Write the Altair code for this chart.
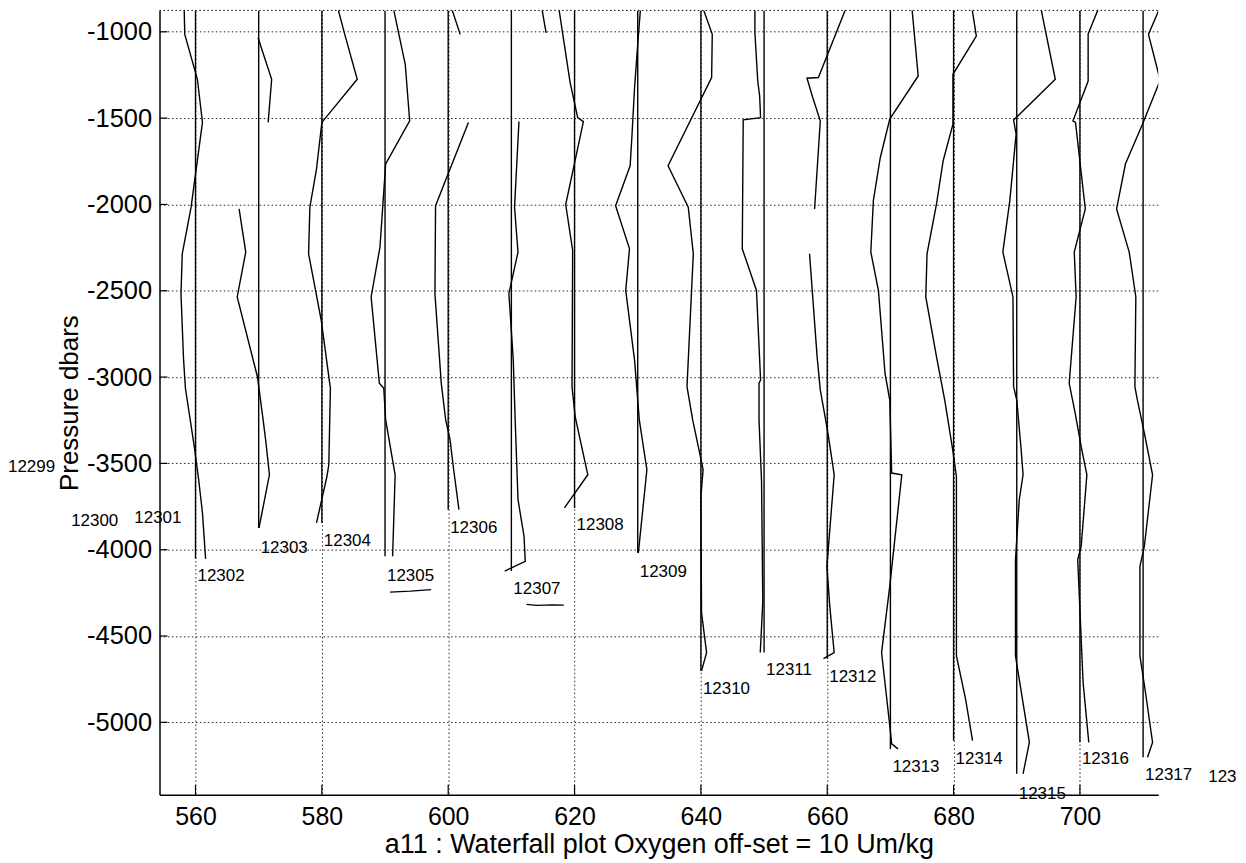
import altair as alt
import pandas as pd

# ---------------- data ----------------
offsets = [560, 570, 580, 590, 600, 610, 620, 630, 640, 650, 660, 670, 680, 690, 700, 710]
x_ticks = [560, 580, 600, 620, 640, 660, 680, 700]
y_ticks = [-1000, -1500, -2000, -2500, -3000, -3500, -4000, -4500, -5000]

# station profiles (oxygen + offset, pressure); "a"/"b" = pieces separated by gaps
s12302_x = [558.2, 558.3, 560.3, 561.1, 559.3, 557.9, 557.7, 558.1, 558.4, 559.8, 560.5, 561.1, 561.6]
s12302_p = [-860, -1015, -1275, -1525, -2016, -2286, -2517, -2892, -3065, -3402, -3595, -3787, -4053]

s12303a_x = [569.9, 572.05, 571.5]
s12303a_p = [-1035, -1275, -1525]
s12303b_x = [566.9, 567.95, 566.6, 569.8, 570.7, 571.1, 571.7, 570.05]
s12303b_p = [-2026, -2276, -2536, -2998, -3248, -3364, -3566, -3874]

s12304_x = [582.5, 583.7, 585.6, 580.0, 579.15, 578.1, 577.9, 578.7, 579.9, 581.35, 581.1, 580.8, 579.15]
s12304_p = [-860, -1025, -1275, -1525, -1795, -2016, -2286, -2440, -2671, -3065, -3508, -3576, -3845]

s12305_x = [591.3, 593.2, 593.9, 590.1, 589.2, 587.8, 589.1, 589.8, 590.1, 591.6, 591.2]
s12305_p = [-860, -1188, -1516, -1766, -2247, -2536, -3036, -3065, -3248, -3566, -4038]

s12306a_x = [600.5, 601.9]
s12306a_p = [-860, -1015]
s12306b_x = [603.2, 598.0, 597.9, 598.9, 599.6, 600.3, 600.8, 601.7]
s12306b_p = [-1525, -2007, -2517, -3036, -3248, -3364, -3518, -3768]

s12307a_x = [614.8, 615.5]
s12307a_p = [-860, -1006]
s12307b_x = [611.2, 610.5, 611.05, 609.6, 609.75, 610.3, 610.6, 611.05, 612.0, 612.2, 608.95]
s12307b_p = [-1520, -2016, -2276, -2517, -2594, -2902, -3248, -3710, -3922, -4067, -4124]

s12308_x = [617.5, 618.3, 619.3, 620.5, 621.4, 618.6, 619.7, 619.6, 620.1, 622.1, 618.4]
s12308_p = [-860, -1054, -1294, -1497, -1520, -2001, -2266, -3056, -3229, -3566, -3758]

s12309_x = [630.45, 630.0, 629.5, 629.1, 628.8, 626.5, 628.7, 628.1, 629.5, 630.25, 631.45, 630.1]
s12309_p = [-860, -1073, -1323, -1593, -1776, -2007, -2257, -2498, -2902, -3248, -3537, -4018]

s12310_x = [640.3, 641.8, 641.7, 634.8, 638.0, 638.8, 637.8, 638.7, 639.7, 640.35, 640.0, 640.1, 640.9, 640.1]
s12310_p = [-860, -1015, -1265, -1776, -2016, -2286, -3056, -3248, -3422, -3537, -3691, -4365, -4596, -4702]

s12311_x = [648.55, 648.55, 649.0, 649.3, 649.45, 646.7, 646.55, 648.8, 649.45, 649.2, 649.2, 649.6, 649.8, 649.4]
s12311_p = [-860, -1006, -1285, -1371, -1497, -1510, -2257, -2498, -3017, -3036, -3248, -3600, -4300, -4596]

s12312a_x = [663.0, 658.6, 656.8, 657.7, 658.9, 658.0]
s12312a_p = [-860, -1265, -1269, -1381, -1516, -2026]
s12312b_x = [657.2, 658.4, 658.9, 659.7, 660.2, 661.1, 659.95, 660.4, 661.1, 659.4]
s12312b_p = [-2286, -2883, -3075, -3238, -3345, -3566, -4096, -4327, -4596, -4631]

s12313_x = [673.4, 674.4, 669.9, 668.4, 667.3, 666.9, 668.1, 669.15, 669.9, 670.2, 671.8, 669.9, 668.6, 669.9, 670.2, 671.2]
s12313_p = [-860, -1256, -1506, -1728, -1978, -2276, -2498, -2979, -3133, -3556, -3566, -4211, -4596, -5019, -5125, -5154]

s12314_x = [682.9, 683.6, 679.9, 679.9, 678.35, 677.3, 675.8, 675.6, 677.3, 678.6, 679.9, 680.45, 680.45, 681.9, 683.0]
s12314_p = [-860, -1025, -1246, -1535, -1747, -1997, -2286, -2536, -2883, -3133, -3431, -3576, -4615, -4865, -5106]

s12315_x = [693.8, 696.1, 689.5, 689.9, 688.9, 687.8, 689.4, 689.5, 690.0, 690.7, 691.0, 690.4, 689.8, 689.8, 692.0, 691.0]
s12315_p = [-860, -1275, -1511, -1593, -1978, -2276, -2536, -3056, -3133, -3422, -3566, -3710, -4057, -4615, -5116, -5298]

s12316_x = [703.0, 701.3, 701.3, 698.9, 699.3, 700.85, 699.1, 699.4, 698.3, 699.2, 700.3, 701.1, 700.2, 699.65, 700.5, 701.4]
s12316_p = [-860, -1012, -1285, -1516, -1525, -2026, -2276, -2536, -3036, -3200, -3422, -3566, -3980, -4057, -4769, -5116]

s12317_x = [712.9, 710.85, 712.7, 709.9, 707.2, 705.8, 707.8, 708.85, 708.7, 709.1, 710.2, 711.5, 710.2, 709.5, 709.5, 710.3, 711.5, 710.7]
s12317_p = [-840, -1015, -1280, -1535, -1766, -2026, -2276, -2536, -3056, -3133, -3325, -3566, -3980, -4096, -4615, -4807, -5116, -5202]

# station labels
label_text = ["12299", "12300", "12301", "12302", "12303", "12304", "12305", "12306", "12307", "12308",
              "12309", "12310", "12311", "12312", "12313", "12314", "12315", "12316", "12317", "123"]
label_x = [530, 540, 550, 560, 570, 580, 590, 600, 610, 620, 630, 640, 650, 660, 670, 680, 690, 700, 710, 720]
label_p = [-3520, -3832, -3815, -4155, -3988, -3948, -4155, -3872, -4230, -3855,
           -4132, -4808, -4698, -4739, -5259, -5212, -5414, -5212, -5305, -5316]

# hand-drawn underline strokes under two labels
u12305_x = [590.8, 594.0, 597.3]
u12305_p = [-4246, -4240, -4231]
u12307_x = [612.4, 614.0, 616.5, 618.3]
u12307_p = [-4317, -4322, -4320, -4321]

# ---------------- build tables ----------------
segments = [
    ("12302", s12302_x, s12302_p), ("12303a", s12303a_x, s12303a_p), ("12303b", s12303b_x, s12303b_p),
    ("12304", s12304_x, s12304_p), ("12305", s12305_x, s12305_p),
    ("12306a", s12306a_x, s12306a_p), ("12306b", s12306b_x, s12306b_p),
    ("12307a", s12307a_x, s12307a_p), ("12307b", s12307b_x, s12307b_p),
    ("12308", s12308_x, s12308_p), ("12309", s12309_x, s12309_p), ("12310", s12310_x, s12310_p),
    ("12311", s12311_x, s12311_p), ("12312a", s12312a_x, s12312a_p), ("12312b", s12312b_x, s12312b_p),
    ("12313", s12313_x, s12313_p), ("12314", s12314_x, s12314_p), ("12315", s12315_x, s12315_p),
    ("12316", s12316_x, s12316_p), ("12317", s12317_x, s12317_p),
]
rows = []
for seg, xs, ps in segments:
    for i, (x, p) in enumerate(zip(xs, ps)):
        rows.append({"seg": seg, "st": seg[:5], "i": i, "xv": x, "yv": p})
prof = pd.DataFrame(rows)

X_DOM = [554.3, 712.4]
Y_DOM = [-5420, -876]

bottoms = prof.groupby("st")["yv"].min()
ref = pd.DataFrame({"xv": offsets,
                    "y2v": [bottoms[str(12302 + k)] for k in range(len(offsets))],
                    "yv": [Y_DOM[1]] * len(offsets)})

labels = pd.DataFrame({"lt": label_text, "xv": label_x, "yv": label_p})

urows = []
for name, xs, ps in [("u1", u12305_x, u12305_p), ("u2", u12307_x, u12307_p)]:
    for i, (x, p) in enumerate(zip(xs, ps)):
        urows.append({"u": name, "i": i, "xv": x, "yv": p})
unders = pd.DataFrame(urows)

# ---------------- chart ----------------
W, H = 1002, 787
FONT = "Liberation Sans"
X_TITLE = "a11 : Waterfall plot Oxygen off-set = 10 Um/kg"
Y_TITLE = "Pressure dbars"
xs_ = alt.Scale(domain=X_DOM, nice=False, zero=False)
ys_ = alt.Scale(domain=Y_DOM, nice=False, zero=False)

x_axis = alt.Axis(values=x_ticks, title=X_TITLE,
                  grid=True, gridDash=[1.5, 2.5], gridColor="black", gridOpacity=0.85, gridWidth=1,
                  ticks=False, domainColor="black", domainWidth=1.5,
                  labelFontSize=25, labelColor="black", labelPadding=10, labelFlush=False,
                  labelFont=FONT, titleFont=FONT,
                  titleFontSize=27, titleFontWeight="normal", titleColor="black", titlePadding=2)
y_axis = alt.Axis(values=y_ticks, title=Y_TITLE, labelExpr="'' + datum.value",
                  grid=True, gridDash=[1.5, 2.5], gridColor="black", gridOpacity=0.85, gridWidth=1,
                  ticks=False, domainColor="black", domainWidth=1.5,
                  labelFontSize=25.5, labelColor="black", labelPadding=8, labelFlush=False,
                  labelFont=FONT, titleFont=FONT,
                  titleFontSize=26, titleFontWeight="normal", titleColor="black", titlePadding=4)


def X(field="xv"):
    return alt.X(f"{field}:Q", scale=xs_, axis=x_axis, title=X_TITLE)


def Y(field="yv"):
    return alt.Y(f"{field}:Q", scale=ys_, axis=y_axis, title=Y_TITLE)


ref_layer = alt.Chart(ref).mark_rule(color="black", strokeWidth=1.4, clip=True).encode(
    x=X(), y=Y(), y2="y2v:Q",
)

prof_layer = alt.Chart(prof).mark_line(color="black", strokeWidth=1.4, clip=True).encode(
    x=X(), y=Y(), detail="seg:N", order="i:Q",
)

xtick_layer = alt.Chart(pd.DataFrame({"xv": x_ticks})).mark_rule(color="black", strokeWidth=1.2).encode(
    x=X(), y=alt.value(H), y2=alt.value(H - 10))
ytick_layer = alt.Chart(pd.DataFrame({"yv": y_ticks})).mark_rule(color="black", strokeWidth=1.2).encode(
    y=Y(), x=alt.value(0), x2=alt.value(8))

top_border = alt.Chart(pd.DataFrame({"t": [0]})).mark_rule(
    color="black", strokeDash=[1.5, 2.5], strokeWidth=1).encode(
    x=alt.value(0), x2=alt.value(W), y=alt.value(0))

label_layer = alt.Chart(labels).mark_text(
    align="left", baseline="middle", dx=2, fontSize=17, font=FONT, color="black").encode(
    x=X(), y=Y(), text="lt:N",
)

under_layer = alt.Chart(unders).mark_line(color="black", strokeWidth=1.3).encode(
    x=X(), y=Y(), detail="u:N", order="i:Q",
)

chart = alt.layer(ref_layer, prof_layer, xtick_layer, ytick_layer, top_border, label_layer, under_layer).properties(
    width=W, height=H,
    autosize=alt.AutoSizeParams(type="none"),
    padding={"left": 152, "top": 1, "right": 80, "bottom": 72},
    background="white",
).configure_view(stroke=None)

chart.save("out.html", embed_options={"renderer": "svg", "actions": False})
